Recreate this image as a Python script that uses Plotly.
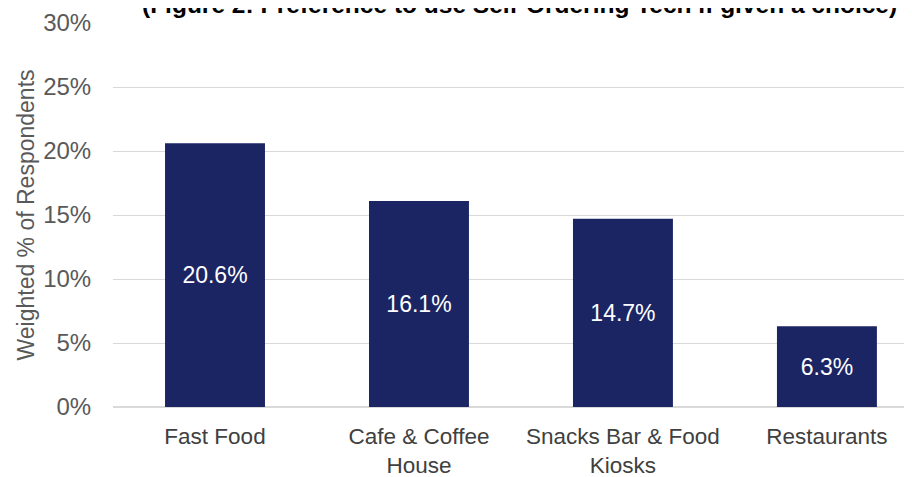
import plotly.graph_objects as go

categories = ["Fast Food", "Cafe & Coffee<br>House", "Snacks Bar & Food<br>Kiosks", "Restaurants"]
values = [20.6, 16.1, 14.7, 6.3]
value_labels = ["20.6%", "16.1%", "14.7%", "6.3%"]
tick_vals = [0, 5, 10, 15, 20, 25, 30]
tick_text = ["0%", "5%", "10%", "15%", "20%", "25%", "30%"]
title_text = "(Figure 2: Preference to use Self-Ordering Tech if given a choice)"
y_title = "Weighted % of Respondents"

FONT = "Liberation Sans, Arial, sans-serif"

fig = go.Figure(go.Bar(
    x=list(range(len(categories))),
    y=values,
    text=value_labels,
    textposition="inside",
    insidetextanchor="middle",
    textfont=dict(color="white", size=23, family=FONT),
    marker=dict(color="#1b2564", line=dict(width=0)),
    width=0.49,
    cliponaxis=False,
))

# the HTML page body has an 8px margin; size the figure so it fills the 912x477 window
fig.update_layout(
    width=904, height=469,
    margin=dict(l=105, r=0, t=15, b=70),
    plot_bgcolor="white", paper_bgcolor="white",
    showlegend=False,
    font=dict(family=FONT, color="#595959"),
    xaxis=dict(
        tickmode="array",
        tickvals=list(range(len(categories))),
        ticktext=categories,
        range=[-0.5, 3.417],
        tickfont=dict(size=22.5, color="#404040"),
        showgrid=False, zeroline=False, showline=False,
        ticks="outside", ticklen=9, tickcolor="rgba(0,0,0,0)",
        automargin=False,
    ),
    yaxis=dict(
        range=[0, 30],
        tickmode="array", tickvals=tick_vals, ticktext=tick_text,
        tickfont=dict(size=24, color="#595959"),
        showgrid=True, gridcolor="#d9d9d9", gridwidth=1,
        zeroline=True, zerolinecolor="#d9d9d9", zerolinewidth=1.5,
        showline=False, ticks="outside", ticklen=16, tickcolor="rgba(0,0,0,0)",
        automargin=False,
        title=dict(text=y_title, font=dict(size=23, color="#595959"), standoff=2),
    ),
    annotations=[dict(
        text="<b>" + title_text + "</b>",
        xref="paper", yref="paper", x=0.509, y=1, xanchor="center", yanchor="bottom",
        yshift=3, showarrow=False,
        font=dict(size=24.5, color="black", family=FONT),
    )],
)

fig.write_html("out.html")
